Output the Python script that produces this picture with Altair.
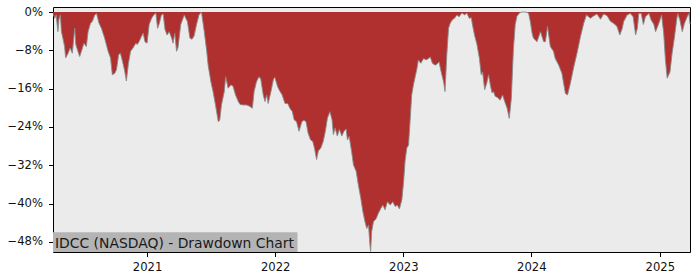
import altair as alt
import pandas as pd

# ---- data (drawdown in %) ----
dates_2020 = ["2020-04-08","2020-04-13","2020-04-17","2020-04-22","2020-04-25","2020-04-29",
              "2020-05-02","2020-05-06","2020-05-11","2020-05-14","2020-05-21","2020-05-27",
              "2020-06-02","2020-06-09","2020-06-12","2020-06-18","2020-06-23",
              "2020-07-01","2020-07-05","2020-07-12","2020-07-17","2020-07-24","2020-07-29",
              "2020-08-05","2020-08-10","2020-08-17","2020-08-24",
              "2020-09-02","2020-09-12","2020-09-19","2020-09-24",
              "2020-10-01","2020-10-06","2020-10-12","2020-10-17","2020-10-23","2020-10-29",
              "2020-11-03","2020-11-09","2020-11-15","2020-11-22","2020-11-30",
              "2020-12-04","2020-12-09","2020-12-16","2020-12-21","2020-12-26"]
dd_2020 = [-0.3,-1.3,-0.6,-4.1,-1.5,-0.6,
           -4.1,-5.4,-7.2,-9.6,-8.6,-7.5,
           -8.6,-3.4,-6.8,-8.2,-9.3,
           -7.5,-6.5,-7.2,-4.1,-2.3,-2.0,
           -0.6,-0.3,-2.3,-3.4,
           -5.4,-8.2,-9.6,-13.1,
           -12.8,-12.0,-8.9,-8.6,-10.3,-12.2,
           -14.4,-10.7,-8.2,-7.5,-6.5,
           -6.8,-6.2,-5.1,-4.4,-6.2]

dates_2021 = ["2021-01-01","2021-01-07","2021-01-14","2021-01-20","2021-01-26","2021-01-31",
              "2021-02-04","2021-02-11","2021-02-16","2021-02-21","2021-02-27",
              "2021-03-05","2021-03-12","2021-03-16","2021-03-21","2021-03-26","2021-03-30",
              "2021-04-07","2021-04-17","2021-04-26",
              "2021-05-03","2021-05-09","2021-05-15","2021-05-22","2021-05-29",
              "2021-06-05","2021-06-13","2021-06-20","2021-06-24",
              "2021-07-02","2021-07-08","2021-07-15","2021-07-23","2021-07-27",
              "2021-08-01","2021-08-09","2021-08-13","2021-08-20","2021-08-28",
              "2021-09-03","2021-09-10","2021-09-18","2021-09-23",
              "2021-10-02","2021-10-12","2021-10-21","2021-10-28",
              "2021-11-02","2021-11-09","2021-11-16","2021-11-21","2021-11-28",
              "2021-12-03","2021-12-08","2021-12-12","2021-12-20","2021-12-27","2021-12-31"]
dd_2021 = [-6.5,-2.6,-1.3,-0.6,-0.2,-3.4,
           -2.6,-0.6,-0.4,-3.6,-4.8,
           -4.1,-5.4,-6.5,-4.4,-8.2,-7.5,
           -2.6,-0.6,-2.0,
           -5.4,-5.7,-5.0,-2.6,-0.6,
           0.0,-4.1,-8.2,-11.1,
           -14.6,-16.6,-19.4,-22.9,-22.6,
           -19.4,-16.6,-13.5,-15.9,-15.2,
           -15.5,-17.3,-18.7,-19.3,
           -19.4,-19.4,-19.7,-20.1,
           -16.6,-14.5,-13.5,-14.0,-17.3,
           -18.7,-17.3,-19.1,-16.6,-14.1,-13.6]

dates_2022 = ["2022-01-08","2022-01-15","2022-01-21","2022-01-29",
              "2022-02-06","2022-02-12","2022-02-19","2022-02-24",
              "2022-03-03","2022-03-10","2022-03-18","2022-03-24","2022-03-30",
              "2022-04-05","2022-04-12","2022-04-18","2022-04-23","2022-04-29",
              "2022-05-04","2022-05-11","2022-05-18","2022-05-24","2022-05-30",
              "2022-06-06","2022-06-12","2022-06-16","2022-06-21","2022-06-27",
              "2022-07-03","2022-07-10","2022-07-16","2022-07-22","2022-07-26","2022-07-31",
              "2022-08-07","2022-08-12","2022-08-20","2022-08-26",
              "2022-09-02","2022-09-08","2022-09-14","2022-09-19","2022-09-24","2022-09-28","2022-09-30",
              "2022-10-03","2022-10-08","2022-10-16","2022-10-22","2022-10-29",
              "2022-11-04","2022-11-10","2022-11-17","2022-11-25",
              "2022-12-02","2022-12-09","2022-12-15","2022-12-21","2022-12-28"]
dd_2022 = [-15.6,-16.6,-17.3,-19.1,
           -19.1,-20.1,-20.8,-22.5,
           -22.9,-24.9,-22.9,-22.6,-22.9,
           -25.3,-26.7,-27.0,-28.4,-30.8,
           -29.0,-28.4,-27.0,-24.9,-22.1,
           -20.8,-22.5,-25.6,-24.2,-25.9,
           -24.5,-25.9,-24.9,-24.4,-26.7,-26.0,
           -29.2,-31.9,-33.3,-36.1,
           -38.9,-41.7,-43.8,-45.2,-44.5,-48.6,-50.0,
           -45.8,-43.8,-43.1,-42.0,-41.0,
           -40.3,-41.3,-39.6,-40.3,
           -39.6,-40.6,-40.3,-41.1,-39.2]

dates_2023 = ["2023-01-02","2023-01-06","2023-01-11","2023-01-16","2023-01-21","2023-01-25","2023-01-30",
              "2023-02-04","2023-02-09","2023-02-13","2023-02-20","2023-02-28",
              "2023-03-07","2023-03-14","2023-03-19","2023-03-25",
              "2023-04-02","2023-04-10","2023-04-13","2023-04-19","2023-04-26","2023-04-30",
              "2023-05-05","2023-05-10","2023-05-15","2023-05-21","2023-05-27",
              "2023-06-03","2023-06-09","2023-06-17","2023-06-25",
              "2023-07-01","2023-07-08","2023-07-14","2023-07-17","2023-07-23","2023-07-30",
              "2023-08-06","2023-08-11","2023-08-15","2023-08-21","2023-08-27",
              "2023-09-01","2023-09-06","2023-09-11","2023-09-15","2023-09-20","2023-09-28",
              "2023-10-04","2023-10-11","2023-10-17","2023-10-24","2023-10-30",
              "2023-11-05","2023-11-08","2023-11-11","2023-11-16","2023-11-21","2023-11-28",
              "2023-12-05","2023-12-15","2023-12-24","2023-12-29"]
dd_2023 = [-35.4,-31.2,-28.4,-27.8,-22.1,-17.3,-15.2,
           -13.5,-11.8,-10.0,-10.7,-9.7,
           -10.0,-9.7,-9.4,-10.7,
           -11.1,-10.7,-10.4,-12.5,-14.6,-16.6,
           -9.0,-3.4,-2.3,-1.6,-1.3,
           -0.6,-1.0,-0.2,-0.6,
           -0.2,-1.3,-1.2,-2.6,-4.8,-6.8,
           -9.7,-13.1,-12.5,-16.2,-14.8,
           -13.1,-15.2,-16.9,-16.6,-17.6,-17.9,
           -18.4,-17.3,-18.7,-20.1,-22.2,
           -18.0,-12.5,-7.6,-2.6,-0.9,-0.2,
           0.0,0.0,-0.2,-2.0]

dates_2024 = ["2024-01-03","2024-01-07","2024-01-12","2024-01-17","2024-01-27",
              "2024-02-05","2024-02-10","2024-02-16","2024-02-24",
              "2024-03-04","2024-03-09","2024-03-19","2024-03-28",
              "2024-04-07","2024-04-13","2024-04-21",
              "2024-05-01","2024-05-10","2024-05-20","2024-05-29",
              "2024-06-06","2024-06-17","2024-06-27",
              "2024-07-06","2024-07-16","2024-07-25",
              "2024-08-04","2024-08-13","2024-08-23",
              "2024-09-01","2024-09-09","2024-09-16","2024-09-20","2024-09-30",
              "2024-10-09","2024-10-17","2024-10-24","2024-10-29",
              "2024-11-02","2024-11-09","2024-11-15","2024-11-21",
              "2024-12-01","2024-12-07","2024-12-15","2024-12-20","2024-12-29"]
dd_2024 = [-4.4,-5.5,-5.8,-6.2,-4.1,
           -6.2,-6.2,-3.0,-7.2,
           -8.2,-9.7,-11.1,-12.8,
           -17.0,-17.3,-14.9,
           -11.4,-8.6,-5.1,-2.4,
           -0.6,-1.3,-0.8,
           -0.4,-1.5,-0.4,
           -0.8,-1.9,-2.4,
           -3.0,-4.8,-3.4,-2.0,-0.6,
           -0.3,-1.0,-4.8,-3.4,
           -0.3,-0.3,-2.6,-1.0,
           -0.3,-1.6,-2.6,-4.1,-2.4]

dates_2025 = ["2025-01-06","2025-01-12","2025-01-17","2025-01-22","2025-01-30",
              "2025-02-05","2025-02-12","2025-02-18","2025-02-21","2025-02-27",
              "2025-03-06","2025-03-12","2025-03-20","2025-03-25","2025-03-28"]
dd_2025 = [-0.6,-4.4,-10.0,-13.8,-12.5,
           -8.6,-5.1,-1.6,-0.3,-1.6,
           -4.1,-2.4,-1.0,-0.3,-2.5]

year_ticks = [2021, 2022, 2023, 2024, 2025]
y_ticks_pct = [0, -8, -16, -24, -32, -40, -48]
title_text = "IDCC (NASDAQ) - Drawdown Chart"

dates = dates_2020 + dates_2021 + dates_2022 + dates_2023 + dates_2024 + dates_2025
dd = dd_2020 + dd_2021 + dd_2022 + dd_2023 + dd_2024 + dd_2025

df = pd.DataFrame({"date": pd.to_datetime(dates), "dd": [v / 100 for v in dd]})

FONT = "DejaVu Sans"

x_enc = alt.X(
    "date:T",
    title=None,
    scale=alt.Scale(
        domain=[alt.DateTime(year=2020, month=4, date=8),
                alt.DateTime(year=2025, month=3, date=28)],
        nice=False,
    ),
    axis=alt.Axis(
        values=[alt.DateTime(year=y, month=1, date=1) for y in year_ticks],
        format="%Y", labelAngle=0, labelPadding=4.5,
    ),
)
y_enc = alt.Y(
    "dd:Q",
    title=None,
    scale=alt.Scale(domain=[-0.501, 0.0105], nice=False, zero=False),
    axis=alt.Axis(values=[v / 100 for v in y_ticks_pct], format=".0%", labelPadding=6),
)

base = alt.Chart(df)
area = base.mark_area(color="#b03030", interpolate="linear", opacity=1).encode(
    x=x_enc, y=y_enc, y2=alt.datum(0)
)
edge = base.mark_line(color="#8a8a8a", strokeWidth=0.9, interpolate="linear").encode(
    x="date:T", y="dd:Q"
)

label_df = pd.DataFrame({"label": [title_text]})
box = alt.Chart(label_df).mark_rect(color="#b4b4b4").encode(
    x=alt.value(0), x2=alt.value(244.5), y=alt.value(225.3), y2=alt.value(245)
)
txt = alt.Chart(label_df).mark_text(
    align="left", baseline="alphabetic", font=FONT, fontSize=13.9, color="#1a1a1a"
).encode(x=alt.value(2.0), y=alt.value(240.6), text="label:N")

chart = (
    alt.layer(area, edge, box, txt)
    .properties(
        width=637, height=245,
        autosize=alt.AutoSizeParams(type="none"),
        padding={"left": 53, "top": 7, "right": 10, "bottom": 28},
        background="white",
    )
    .configure_view(fill="#ebebeb", stroke="black", strokeWidth=1)
    .configure_axis(
        domain=False, grid=False,
        tickColor="black", tickSize=4.5, tickWidth=1,
        labelFont=FONT, labelFontSize=11.6, labelColor="#111111",
    )
)

chart.save("out.html", embed_options={"renderer": "svg", "actions": False})
